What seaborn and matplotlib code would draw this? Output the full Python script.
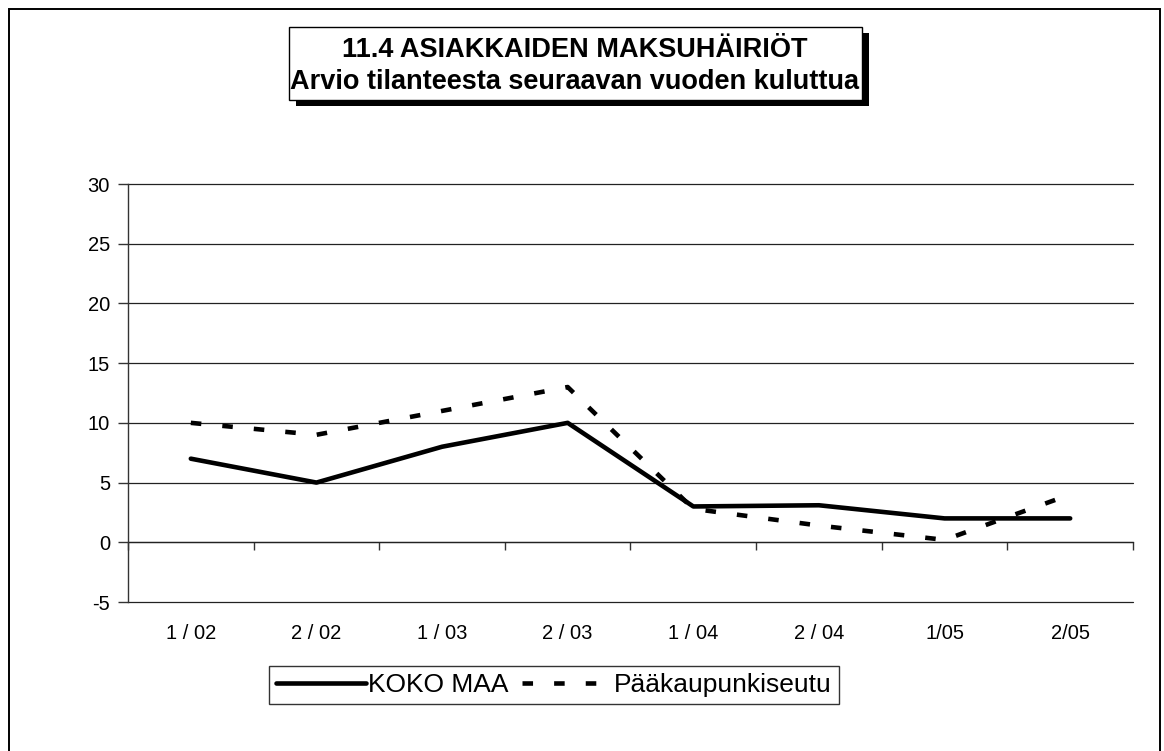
import pandas as pd
import seaborn as sns
import matplotlib.pyplot as plt
from matplotlib.patches import Rectangle

jaksot = ["1 / 02", "2 / 02", "1 / 03", "2 / 03", "1 / 04", "2 / 04", "1/05", "2/05"]
koko_maa = [7, 5, 8, 10, 3, 3.1, 2, 2]
paakaupunkiseutu = [10, 9, 11, 13, 2.8, 1.4, 0.2, 4]
y_ticks = [-5, 0, 5, 10, 15, 20, 25, 30]

sns.set_style("white")
plt.rcParams["font.family"] = ["Liberation Sans", "DejaVu Sans"]
plt.rcParams["text.color"] = "black"
plt.rcParams["xtick.color"] = "black"
plt.rcParams["ytick.color"] = "black"
plt.rcParams["axes.unicode_minus"] = False

df = pd.DataFrame({
    "jakso": jaksot * 2,
    "arvo": koko_maa + paakaupunkiseutu,
    "sarja": ["KOKO MAA"] * len(jaksot) + ["Pääkaupunkiseutu"] * len(jaksot),
})

fig = plt.figure(figsize=(11.64, 7.51), dpi=100)
W, H = 1164, 751
ax = fig.add_axes([128 / W, 1 - 602 / H, (1133 - 128) / W, (602 - 184) / H])

sns.lineplot(data=df, x="jakso", y="arvo", hue="sarja", style="sarja",
             palette=["black", "black"],
             dashes={"KOKO MAA": "", "Pääkaupunkiseutu": (2.3, 4.6)},
             linewidth=3.3, sort=False, ax=ax)

ax.set_xlim(-0.5, len(jaksot) - 0.5)
ax.set_ylim(-5, 30)
ax.set_yticks(y_ticks)
ax.set_xlabel("")
ax.set_ylabel("")
for y in y_ticks:
    ax.axhline(y, color="#222222", lw=0.9, zorder=0, clip_on=False)

for s in ["top", "right", "bottom"]:
    ax.spines[s].set_visible(False)
ax.spines["left"].set_color("#333333")
ax.spines["left"].set_linewidth(1.0)
ax.tick_params(axis="y", length=7, width=1, color="#333333", labelsize=14.5, pad=6, left=True)
ax.tick_params(axis="x", length=0, labelsize=14.5, pad=16)
ax.set_xticks(range(len(jaksot)))
ax.set_xticklabels(jaksot)

# x axis line at zero with ticks between categories
sec = ax.secondary_xaxis(5 / 35)
sec.set_xticks([i - 0.5 for i in range(len(jaksot) + 1)])
sec.set_xticklabels([])
sec.tick_params(length=6, width=1, color="#333333", direction="out")
sec.spines["bottom"].set_color("#222222")
sec.spines["bottom"].set_linewidth(0.9)

ax.legend(handles=ax.get_legend_handles_labels()[0],
          labels=["KOKO MAA", "Pääkaupunkiseutu"],
          loc="center", bbox_to_anchor=(554 / W, 1 - 685 / H),
          bbox_transform=fig.transFigure, ncol=2, frameon=True, fancybox=False,
          edgecolor="black", fontsize=19, handlelength=3.4, handletextpad=0.1,
          columnspacing=0.5, borderpad=0.25, borderaxespad=0)
ax.get_legend().get_frame().set_linewidth(1.0)

# outer frame (bottom edge lies below the picture)
fig.patches.append(Rectangle((9 / W, 1 - 770 / H), (1160 - 9) / W, (770 - 9) / H,
                             transform=fig.transFigure, fill=False, ec="black", lw=1.4))
# title box with shadow
fig.patches.append(Rectangle((296 / W, 1 - 106 / H), (862 - 289) / W, (100 - 27) / H,
                             transform=fig.transFigure, fc="black", ec="black", lw=0))
fig.patches.append(Rectangle((289 / W, 1 - 100 / H), (862 - 289) / W, (100 - 27) / H,
                             transform=fig.transFigure, fc="white", ec="black", lw=1.0))
fig.text(575 / W, 1 - 50 / H, "11.4 ASIAKKAIDEN MAKSUHÄIRIÖT", ha="center", va="center",
         fontsize=19.5, fontweight="bold")
fig.text(575 / W, 1 - 82 / H, "Arvio tilanteesta seuraavan vuoden kuluttua", ha="center",
         va="center", fontsize=19.5, fontweight="bold")

fig.savefig("out.png", dpi=100)
